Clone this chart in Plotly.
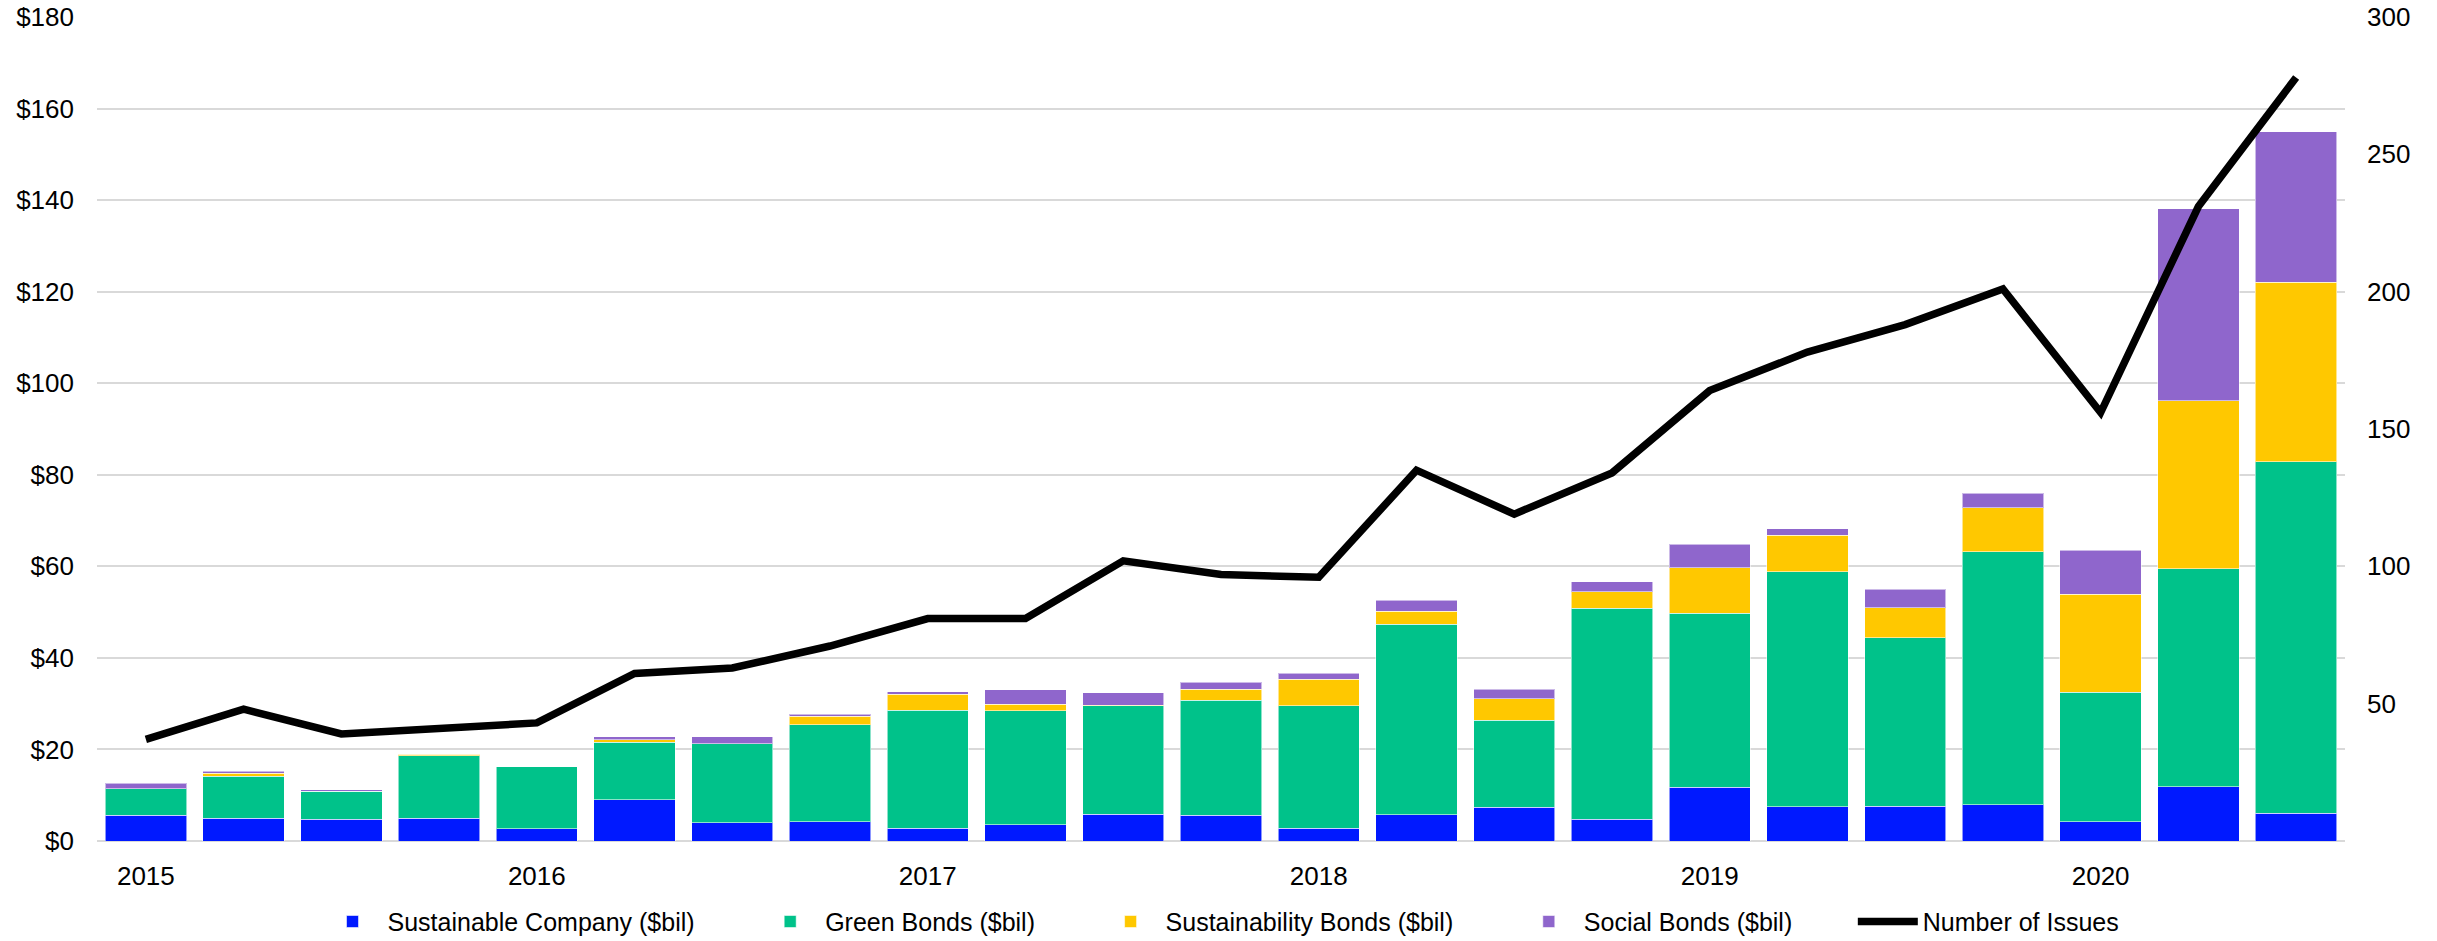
import plotly.graph_objects as go

quarters = ["2015 Q1", "2015 Q2", "2015 Q3", "2015 Q4",
            "2016 Q1", "2016 Q2", "2016 Q3", "2016 Q4",
            "2017 Q1", "2017 Q2", "2017 Q3", "2017 Q4",
            "2018 Q1", "2018 Q2", "2018 Q3", "2018 Q4",
            "2019 Q1", "2019 Q2", "2019 Q3", "2019 Q4",
            "2020 Q1", "2020 Q2", "2020 Q3"]
year_ticks = ["2015 Q1", "2016 Q1", "2017 Q1", "2018 Q1", "2019 Q1", "2020 Q1"]
year_labels = ["2015", "2016", "2017", "2018", "2019", "2020"]

sustainable_company = [5.6, 5.0, 4.8, 5.0, 2.7, 9.0, 4.0, 4.2, 2.8, 3.6, 5.8, 5.6,
                       2.8, 5.7, 7.4, 4.7, 11.7, 7.5, 7.6, 7.9, 4.2, 11.9, 6.1]
green_bonds = [5.8, 9.2, 6.1, 13.6, 13.5, 12.6, 17.2, 21.2, 25.8, 24.8, 23.7, 25.2,
               26.7, 41.7, 19.0, 46.1, 38.0, 51.3, 36.8, 55.3, 28.3, 47.6, 76.7]
sustainability_bonds = [0.0, 0.6, 0.0, 0.4, 0.0, 0.5, 0.0, 1.8, 3.5, 1.5, 0.2, 2.4,
                        5.8, 2.8, 4.7, 3.6, 10.0, 8.0, 6.5, 9.6, 21.4, 36.7, 39.3]
social_bonds = [1.2, 0.4, 0.3, 0.0, 0.0, 0.7, 1.6, 0.5, 0.5, 3.1, 2.7, 1.5,
                1.4, 2.4, 2.0, 2.2, 5.1, 1.4, 4.1, 3.2, 9.6, 41.9, 32.8]
number_of_issues = [37, 48, 39, 41, 43, 61, 63, 71, 81, 81, 102, 97,
                    96, 135, 119, 134, 164, 178, 188, 201, 156, 231, 278]

left_ticks = [0, 20, 40, 60, 80, 100, 120, 140, 160, 180]
right_ticks = [50, 100, 150, 200, 250, 300]

FONT = "Liberation Sans, Arial, sans-serif"
edge = dict(color="rgba(255,255,255,0.55)", width=1)
PAD = "\u00a0" * 8

fig = go.Figure()
series = [
    ("Sustainable Company ($bil)", sustainable_company, "#0019FF"),
    ("Green Bonds ($bil)", green_bonds, "#00C28A"),
    ("Sustainability Bonds ($bil)", sustainability_bonds, "#FFC800"),
    ("Social Bonds ($bil)", social_bonds, "#8F66CC"),
]
for name, vals, col in series:
    fig.add_trace(go.Bar(x=quarters, y=vals, name=name + PAD,
                         marker=dict(color=col, line=edge), yaxis="y"))

fig.add_trace(go.Scatter(x=quarters, y=number_of_issues, name="Number of Issues",
                         mode="lines",
                         line=dict(color="black", width=7.5),
                         yaxis="y2"))

fig.update_layout(
    width=2437, height=941,
    barmode="stack", bargap=0.168,
    plot_bgcolor="white", paper_bgcolor="white",
    margin=dict(l=97, r=92, t=17, b=100, autoexpand=False),
    font=dict(family=FONT, size=26, color="black"),
    xaxis=dict(type="category", categoryorder="array", categoryarray=quarters,
               tickmode="array", tickvals=year_ticks, ticktext=year_labels,
               showgrid=False, showline=False, ticks="", ticklabelstandoff=17,
               tickfont=dict(size=26)),
    yaxis=dict(range=[0, 180], tickmode="array", tickvals=left_ticks,
               ticktext=["$" + str(v) for v in left_ticks],
               showgrid=True, gridcolor="#D9D9D9", gridwidth=1.5,
               zeroline=True, zerolinecolor="#D9D9D9", zerolinewidth=1.5,
               showline=False, ticks="", ticklabelstandoff=22,
               tickfont=dict(size=26)),
    yaxis2=dict(range=[0, 300], overlaying="y", side="right",
                tickmode="array", tickvals=right_ticks,
                ticktext=[str(v) for v in right_ticks],
                showgrid=False, zeroline=False, showline=False, ticks="",
                ticklabelstandoff=21, tickfont=dict(size=26)),
    legend=dict(orientation="h", x=0.5, xanchor="center", y=-0.098,
                yanchor="middle", font=dict(size=25), traceorder="normal",
                itemwidth=60, bgcolor="rgba(0,0,0,0)"),
    showlegend=True,
)

fig.write_html("out.html",
               config={"displayModeBar": False},
               post_script="document.body.style.margin='0';"
                           "document.body.style.overflow='hidden';")
